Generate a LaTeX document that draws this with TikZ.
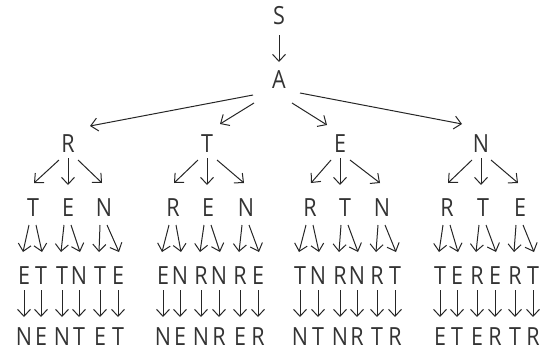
\documentclass[tikz,border=0pt]{standalone}
\usepackage{fontspec}
\setmainfont{Open Sans}[FakeStretch=0.86]
\usetikzlibrary{arrows.meta,calc}
\begin{document}
\begin{tikzpicture}[x=1pt,y=-1pt,
  lt/.style={inner sep=0pt, font=\fontsize{25}{25}\selectfont, text=black!80},
  arr/.style={-{Straight Barb[length=7pt,width=13pt]}, line width=1pt, draw=black!85}]
\useasboundingbox (0,0) rectangle (548,351);
\node[lt] (s) at (279,16) {S};
\node[lt] (a) at (279,80) {A};
\node[lt] (p1) at (68,144) {R};
\node[lt] (p2) at (207,144) {T};
\node[lt] (p3) at (340,144) {E};
\node[lt] (p4) at (481,144) {N};
\draw[arr] ($(s)+(0,19)$) -- ($(a)+(0,-18)$);
\draw[arr] ($(a)+(-26,15)$) -- ($(p1)+(22,-18)$);
\draw[arr] ($(a)+(-25,23)$) -- ($(p2)+(13,-20)$);
\draw[arr] ($(a)+(13,23)$) -- ($(p3)+(-13,-19)$);
\draw[arr] ($(a)+(21,13)$) -- ($(p4)+(-19,-20)$);
\foreach \i/\x/\t in {11/33/T,12/68/E,13/104/N,21/173/R,22/208/E,23/246/N,31/310/R,32/345/T,33/382/N,41/447/R,42/483/T,43/520/E}
  \node[lt] (u\i) at (\x,208) {\t};
\foreach \i/\x/\t/\b in {111/24/E/N,112/41/T/E,121/62/T/N,122/79/N/T,131/100/T/E,132/118/E/T,
  211/163/E/N,212/180/N/E,221/201/R/N,222/219/N/R,231/240/R/E,232/258/E/R,
  311/300/T/N,312/318/N/T,321/340/R/N,322/357/N/R,331/377/R/T,332/395/T/R,
  411/440/T/E,412/457/E/T,421/477/R/E,422/495/E/R,431/515/R/T,432/533/T/R}{
  \node[lt] (v\i) at (\x,276) {\t};
  \node[lt] (w\i) at (\x,337) {\b};
  \draw[arr] ($(v\i)+(0,14)$) -- ($(w\i)+(0,-20)$);
}
\foreach \i in {1,...,4}{
  \draw[arr] ($(p\i)+(-9,16)$) -- ($(u\i1)+(1,-25)$);
  \draw[arr] ($(p\i)+(0,14)$) -- ($(p\i|-u\i2)+(0,-23)$);
  \draw[arr] ($(p\i)+(10,16)$) -- ($(u\i3)+(-2,-25)$);
  \foreach \j in {1,2,3}{
    \draw[arr] ($(u\i\j)+(-4,17)$) -- ($(v\i\j1)+(-1,-24)$);
    \draw[arr] ($(u\i\j)+(3,17)$) -- ($(v\i\j2)+(1,-24)$);
  }
}
\end{tikzpicture}
\end{document}
